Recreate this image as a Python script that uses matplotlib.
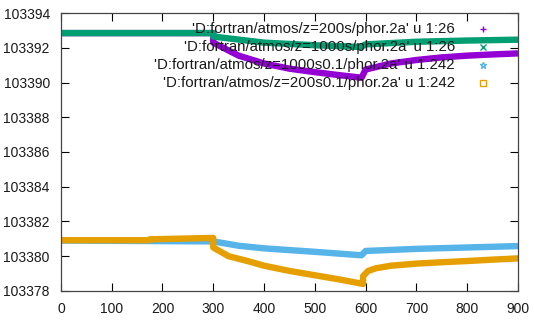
import matplotlib
matplotlib.use("Agg")
import matplotlib.pyplot as plt

plt.rcParams['font.family'] = ['Liberation Sans', 'DejaVu Sans']

# z=200s, column 26
t_a = [0, 300, 300, 350, 400, 450, 500, 550, 592, 600, 650, 700, 750, 800, 850, 900]
p_a = [103392.85, 103392.85, 103392.3, 103391.55, 103391.1, 103390.8, 103390.6,
       103390.42, 103390.28, 103390.75, 103391.1, 103391.3, 103391.45, 103391.55,
       103391.62, 103391.68]

# z=1000s, column 26
t_b = [0, 300, 300, 400, 500, 590, 600, 700, 800, 900]
p_b = [103392.85, 103392.85, 103392.65, 103392.3, 103392.15, 103392.05,
       103392.2, 103392.35, 103392.42, 103392.47]

# z=1000s0.1, column 242
t_c = [0, 300, 350, 400, 500, 592, 600, 700, 800, 900]
p_c = [103380.9, 103380.85, 103380.6, 103380.45, 103380.25, 103380.05,
       103380.3, 103380.42, 103380.5, 103380.58]

# z=200s0.1, column 242
t_d = [0, 175, 175, 300, 300, 330, 370, 400, 450, 500, 550, 595, 595, 605,
       620, 650, 700, 750, 800, 850, 900]
p_d = [103380.92, 103380.92, 103380.97, 103381.05, 103380.5, 103380.0,
       103379.7, 103379.45, 103379.15, 103378.9, 103378.65, 103378.4,
       103378.85, 103379.15, 103379.3, 103379.45, 103379.57, 103379.65,
       103379.72, 103379.8, 103379.87]

labels = ["'D:fortran/atmos/z=200s/phor.2a' u 1:26",
          "'D:fortran/atmos/z=1000s/phor.2a' u 1:26",
          "'D:fortran/atmos/z=1000s0.1/phor.2a' u 1:242",
          "'D:fortran/atmos/z=200s0.1/phor.2a' u 1:242"]
colors = ['#9400D3', '#009E73', '#56B4E9', '#E69F00']
markers = ['+', 'x', '*', 's']

fig = plt.figure(figsize=(5.34, 3.2), dpi=100)
ax = fig.add_axes([0.114, 0.091, 0.856, 0.868])

for t, p, c in zip([t_a, t_b, t_c, t_d], [p_a, p_b, p_c, p_d], colors):
    ax.plot(t, p, color=c, lw=4.6, solid_capstyle='butt', solid_joinstyle='round')

# gnuplot-style key: right-aligned text, point sample on the right
for i, (lab, c, m) in enumerate(zip(labels, colors, markers)):
    y = 0.942 - i * 0.065
    ax.text(0.862, y, lab, transform=ax.transAxes, ha='right', va='center',
            fontsize=10.8, color='#1a1a1a')
    ax.plot([0.923], [y], transform=ax.transAxes, marker=m, color=c,
            ms=5 if m != 's' else 4.5, mfc='none', mew=1.0, ls='none', clip_on=False)

ax.set_xlim(0, 900)
ax.set_ylim(103378, 103394)
ax.set_xticks(range(0, 901, 100))
ax.set_yticks(range(103378, 103395, 2))
ax.get_yaxis().get_major_formatter().set_useOffset(False)
ax.tick_params(direction='in', length=6, width=0.8, top=True, right=True,
               labelsize=10, labelcolor='#1a1a1a', pad=8)
for s in ax.spines.values():
    s.set_color('#444444')
    s.set_linewidth(0.9)

fig.savefig('out.png', dpi=100)
